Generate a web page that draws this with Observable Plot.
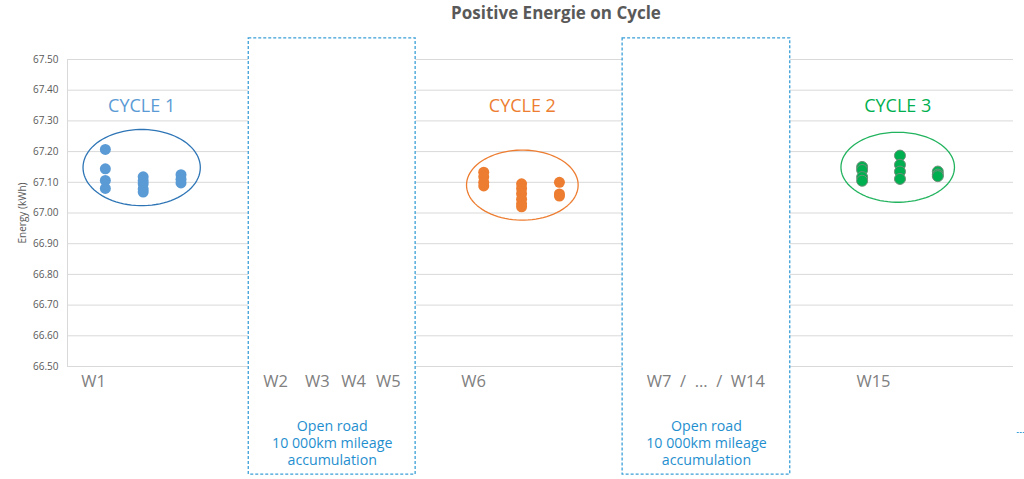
<!DOCTYPE html>
<html><head><meta charset="utf-8">
<script src="https://cdn.jsdelivr.net/npm/d3@7"></script>
<script src="https://cdn.jsdelivr.net/npm/@observablehq/plot@0.6"></script>
<style>
body{margin:0;background:#fff;font-family:"Open Sans",sans-serif;}
#wrap{position:relative;width:1024px;height:479px;overflow:hidden;}
#title{position:absolute;top:1px;left:556px;transform:translateX(-50%);white-space:nowrap;font-weight:bold;font-size:17px;line-height:24px;color:#595959;}
#chart{position:absolute;top:30px;left:0;}
</style>
</head><body>
<div id="wrap"><div id="title">Positive Energie on Cycle</div><div id="chart"></div></div>
<script>
// Run slots (x) and energy values (kWh) per cycle
const cycle1Slot = [1,1,1,1, 2,2,2,2,2, 3,3,3];
const cycle1Energy = [67.207,67.144,67.106,67.080, 67.118,67.105,67.095,67.078,67.068, 67.125,67.110,67.098];
const cycle2Slot = [11,11,11,11, 12,12,12,12,12,12, 13,13,13];
const cycle2Energy = [67.133,67.118,67.100,67.088, 67.095,67.080,67.063,67.045,67.030,67.020, 67.100,67.062,67.055];
const cycle3Slot = [21,21,21,21, 22,22,22,22, 23,23,23];
const cycle3Energy = [67.150,67.140,67.117,67.105, 67.187,67.157,67.135,67.111, 67.135,67.125,67.120];

const cycleNames = ["CYCLE 1","CYCLE 2","CYCLE 3"];
const cycleColors = ["#5b9bd5","#ed7d31","#00b050"];
const ellipseColors = ["#2e75b6","#ed7d31","#22b35e"];

const yTicks = [66.5,66.6,66.7,66.8,66.9,67.0,67.1,67.2,67.3,67.4,67.5];
const weekLabels = ["W1","W2","W3","W4","W5","W6","W7  /  …  /  W14","W15"];
const weekPos = [0.69,5.5,6.6,7.56,8.48,10.73,16.87,21.3];
const boxText = "Open road\n10 000km mileage\naccumulation";
const boxX1 = [4.79,14.67];
const boxX2 = [9.2,19.1];

// annotation geometry (data units)
const ell = [
  {cx:1.96, cy:67.148, rx:1.55, ry:0.124},
  {cx:12.02, cy:67.091, rx:1.475, ry:0.114},
  {cx:21.94, cy:67.149, rx:1.50, ry:0.114}
];
const ellPts = ell.flatMap((e,k)=>d3.range(0,361,4).map(a=>({k, x:e.cx+e.rx*Math.cos(a*Math.PI/180), y:e.cy+e.ry*Math.sin(a*Math.PI/180)})));

const pts = [
  ...cycle1Slot.map((s,i)=>({x:s,y:cycle1Energy[i],c:0})),
  ...cycle2Slot.map((s,i)=>({x:s,y:cycle2Energy[i],c:1})),
  ...cycle3Slot.map((s,i)=>({x:s,y:cycle3Energy[i],c:2}))
];
const boxes = boxX1.map((x1,i)=>({x1, x2:boxX2[i], y1:66.148, y2:67.569}));
const labelPos = ell.map((e,i)=>({x:e.cx, y:67.347, t:cycleNames[i], c:i}));

const plot = Plot.plot({
  width:1024, height:449,
  marginLeft:67, marginRight:11, marginTop:29, marginBottom:113,
  style:{fontFamily:"Open Sans", fontSize:"10px", color:"#595959", background:"transparent"},
  x:{domain:[0,25], axis:null},
  y:{domain:[66.5,67.5], ticks:yTicks, tickFormat:d=>d.toFixed(2), tickSize:0, tickPadding:9, label:null},
  marks:[
    Plot.ruleY(yTicks, {stroke:"#d9d9d9", strokeWidth:1}),
    Plot.ruleX([0], {stroke:"#d9d9d9"}),
    Plot.rect(boxes, {x1:"x1", x2:"x2", y1:"y1", y2:"y2", fill:"white", stroke:"#3a9fd8", strokeWidth:1.3, strokeDasharray:"3,2"}),
    Plot.ruleY([66.285], {x1:25.1, x2:25.35, stroke:"#3a9fd8", strokeDasharray:"2,1"}),
    Plot.line(ellPts, {x:"x", y:"y", z:"k", stroke:d=>ellipseColors[d.k], strokeWidth:1.3}),
    Plot.dot(pts.filter(d=>d.c<2), {x:"x", y:"y", r:5.5, fill:d=>cycleColors[d.c], stroke:"none"}),
    Plot.dot(pts.filter(d=>d.c===2), {x:"x", y:"y", r:5.5, fill:cycleColors[2], stroke:"#6f8f79", strokeWidth:1}),
    Plot.text(labelPos, {x:"x", y:"y", text:"t", fill:d=>cycleColors[d.c], fontSize:18, textAnchor:"middle", lineAnchor:"middle"}),
    Plot.text(weekLabels, {x:(d,i)=>weekPos[i], y:()=>66.451, text:d=>d, fill:"#808080", fontSize:16.5, textAnchor:"middle", lineAnchor:"middle"}),
    Plot.text(boxes, {x:d=>(d.x1+d.x2)/2, y:()=>66.253, text:()=>boxText, fill:"#1f8fcf", fontSize:14.2, lineHeight:1.2, textAnchor:"middle", lineAnchor:"middle"}),
    Plot.text(["Energy (kWh)"], {frameAnchor:"left", dx:-45, rotate:-90, text:d=>d, fill:"#595959", fontSize:10, textAnchor:"middle", lineAnchor:"middle"})
  ]
});
document.getElementById("chart").appendChild(plot);
</script>
</body></html>
